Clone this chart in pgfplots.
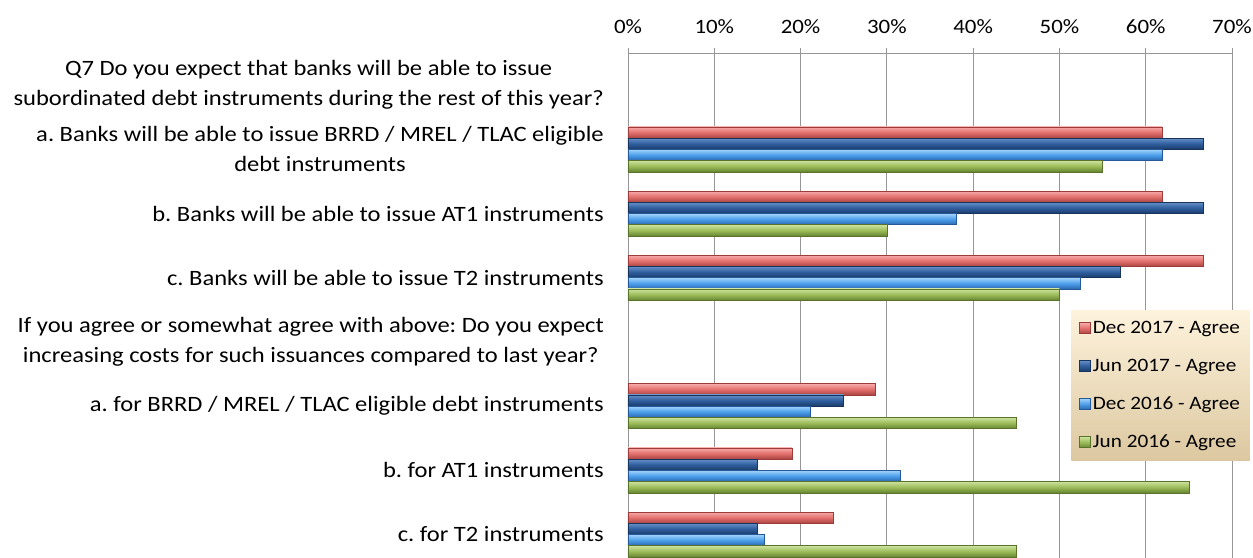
\documentclass[border=0pt]{standalone}
\usepackage{fontspec}
\setmainfont{Carlito}[FakeStretch=1.12]
\usepackage{pgfplots}
\pgfplotsset{compat=1.18}
\definecolor{gridc}{HTML}{969696}
\definecolor{rT}{HTML}{F7ACAA}\definecolor{rM}{HTML}{E3706D}\definecolor{rB}{HTML}{A94441}\definecolor{rD}{HTML}{9C3B39}
\definecolor{dT}{HTML}{6690C8}\definecolor{dM}{HTML}{2F5E9E}\definecolor{dB}{HTML}{1A3B69}\definecolor{dD}{HTML}{17345C}
\definecolor{lT}{HTML}{A3D4FB}\definecolor{lM}{HTML}{4C9FEA}\definecolor{lB}{HTML}{2A66B0}\definecolor{lD}{HTML}{25599A}
\definecolor{gT}{HTML}{CDE2A0}\definecolor{gM}{HTML}{9CBC59}\definecolor{gB}{HTML}{678532}\definecolor{gD}{HTML}{5A732B}
\definecolor{legT}{HTML}{FDF2DC}\definecolor{legB}{HTML}{DCC8A0}
\pgfplotsset{
  redbar/.style={xbar, bar width=0.175, bar shift=0.2625, draw=rD, line width=0.5bp, top color=rT, bottom color=rB, middle color=rM},
  dkbar/.style={xbar, bar width=0.175, bar shift=0.0875, draw=dD, line width=0.5bp, top color=dT, bottom color=dB, middle color=dM},
  ltbar/.style={xbar, bar width=0.175, bar shift=-0.0875, draw=lD, line width=0.5bp, top color=lT, bottom color=lB, middle color=lM},
  grbar/.style={xbar, bar width=0.175, bar shift=-0.2625, draw=gD, line width=0.5bp, top color=gT, bottom color=gB, middle color=gM},
}
\begin{document}
\frenchspacing
\begin{tikzpicture}
\begin{axis}[
  every non boxed x axis/.style={},
  every non boxed y axis/.style={},
  scale only axis, width=604bp, height=505bp,
  xbar, bar width=0.175,
  xmin=0, xmax=70, ymin=0.634, ymax=8.5,
  enlarge x limits=false, enlarge y limits=false,
  axis x line=top, axis y line=left,
  axis line style={draw=gridc, line width=0.8bp, -},
  x axis line style={-}, y axis line style={-},
  xtick={0,10,...,70},
  xticklabels={0\%,10\%,20\%,30\%,40\%,50\%,60\%,70\%},
  xmajorgrids, grid style={draw=gridc, line width=0.8bp},
  tick align=outside, major tick length=5bp,
  xtick style={draw=gridc, line width=0.8bp},
  xticklabel style={font=\fontsize{20.5}{24}\selectfont, yshift=11bp},
  ytick={1,...,8},
  yticklabels={
    c. for T2 instruments,
    b. for AT1 instruments,
    a. for BRRD / MREL / TLAC eligible debt instruments,
    {If you agree or somewhat agree with above: Do you expect\\increasing costs for such issuances compared to last year?},
    c. Banks will be able to issue T2 instruments,
    b. Banks will be able to issue AT1 instruments,
    {a. Banks will be able to issue BRRD / MREL / TLAC eligible\\debt instruments},
    {Q7 Do you expect that banks will be able to issue\\subordinated debt instruments during the rest of this year?}},
  ytick style={draw=none},
  yticklabel style={font=\fontsize{22}{30}\selectfont, align=center, inner sep=0pt, xshift=-19bp},
  legend style={at={(axis description cs:1.0298,0.491)}, anchor=north east,
    draw=none, top color=legT, bottom color=legB,
    font=\fontsize{19}{23}\selectfont, row sep=20bp,
    inner xsep=8bp, inner ysep=9bp,
    /tikz/every even column/.append style={column sep=3bp}},
  legend cell align=left,
  legend image code/.code={\draw[#1, line width=0.5bp] (0bp,-5.5bp) rectangle (11bp,5.5bp);},
]
% Dec 2017 - Agree
\addplot[redbar, forget plot] coordinates {(61.9,7)};
\addplot[redbar, forget plot] coordinates {(61.9,6)};
\addplot[redbar, forget plot] coordinates {(66.7,5)};
\addplot[redbar, forget plot] coordinates {(28.6,3)};
\addplot[redbar, forget plot] coordinates {(19.0,2)};
\addplot[redbar, forget plot] coordinates {(23.8,1)};
% Jun 2017 - Agree
\addplot[dkbar, forget plot] coordinates {(66.7,7)};
\addplot[dkbar, forget plot] coordinates {(66.7,6)};
\addplot[dkbar, forget plot] coordinates {(57.1,5)};
\addplot[dkbar, forget plot] coordinates {(25.0,3)};
\addplot[dkbar, forget plot] coordinates {(15.0,2)};
\addplot[dkbar, forget plot] coordinates {(15.0,1)};
% Dec 2016 - Agree
\addplot[ltbar, forget plot] coordinates {(61.9,7)};
\addplot[ltbar, forget plot] coordinates {(38.1,6)};
\addplot[ltbar, forget plot] coordinates {(52.4,5)};
\addplot[ltbar, forget plot] coordinates {(21.1,3)};
\addplot[ltbar, forget plot] coordinates {(31.6,2)};
\addplot[ltbar, forget plot] coordinates {(15.8,1)};
% Jun 2016 - Agree
\addplot[grbar, forget plot] coordinates {(55.0,7)};
\addplot[grbar, forget plot] coordinates {(30.0,6)};
\addplot[grbar, forget plot] coordinates {(50.0,5)};
\addplot[grbar, forget plot] coordinates {(45.0,3)};
\addplot[grbar, forget plot] coordinates {(65.0,2)};
\addplot[grbar, forget plot] coordinates {(45.0,1)};
\addlegendimage{redbar}\addlegendentry{Dec 2017 - Agree}
\addlegendimage{dkbar}\addlegendentry{Jun 2017 - Agree}
\addlegendimage{ltbar}\addlegendentry{Dec 2016 - Agree}
\addlegendimage{grbar}\addlegendentry{Jun 2016 - Agree}
\coordinate (TL) at (axis cs:0,8.5);
\end{axis}
\pgfresetboundingbox
\path ([xshift=-628bp,yshift=53bp]TL) rectangle ++(1253bp,-558bp);
\end{tikzpicture}
\end{document}
